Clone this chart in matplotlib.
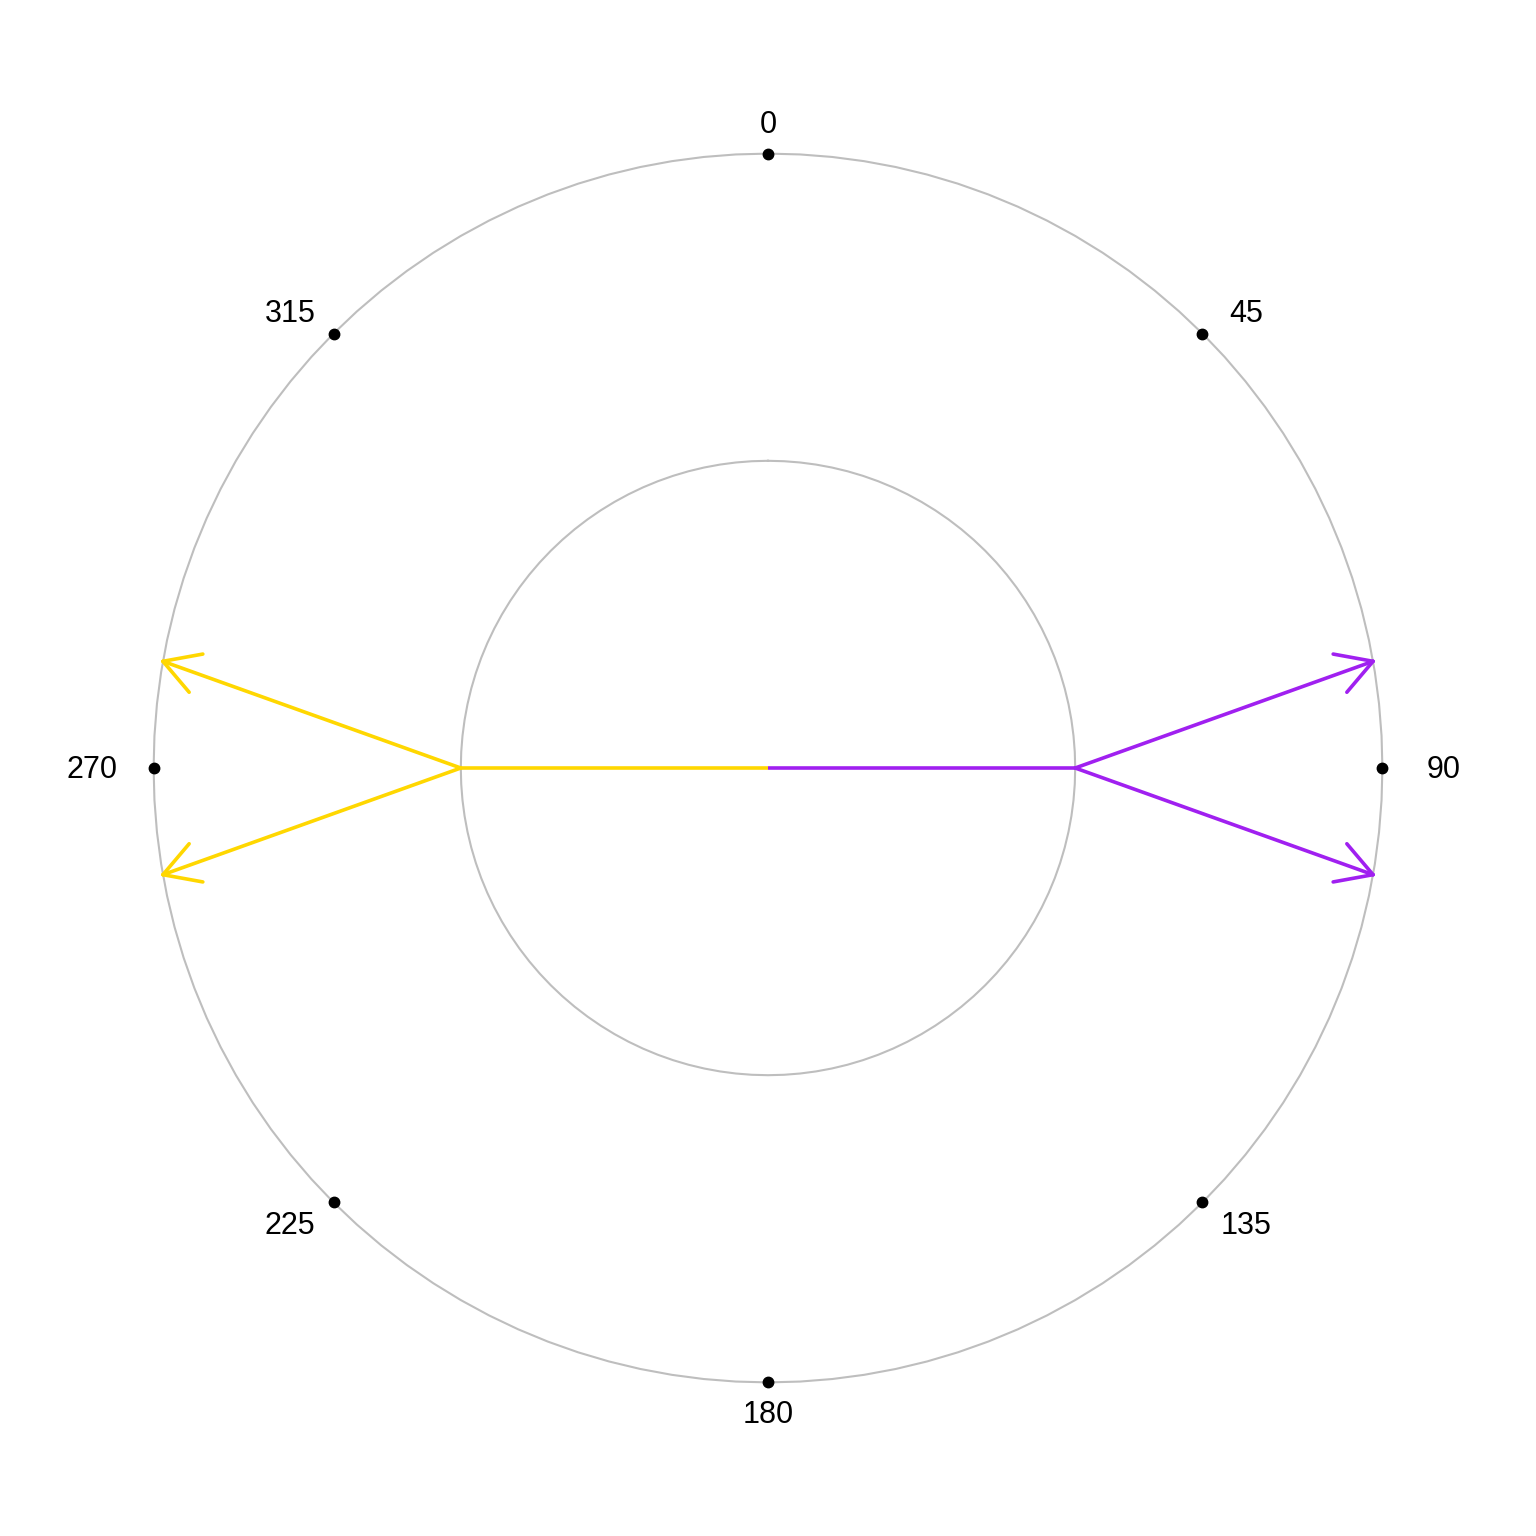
import numpy as np
import matplotlib
matplotlib.use("Agg")
import matplotlib.pyplot as plt

plt.rcParams['font.family'] = ['Liberation Sans', 'DejaVu Sans']

# ---- data ----
tick_angles = [0, 45, 90, 135, 180, 225, 270, 315]          # compass degrees
tick_labels = ["0", "45", "90", "135", "180", "225", "270", "315"]
circle_radii = [0.5, 1.0]
stem_angles = [90, 270]
stem_lengths = [0.5, 0.5]
branch_angles = [[80, 100], [260, 280]]
branch_lengths = [[1.0, 1.0], [1.0, 1.0]]
series_colors = ["#A020F0", "#FFD700"]


def polar_xy(theta_deg, r):
    t = np.deg2rad(np.asarray(theta_deg, dtype=float))
    return r * np.sin(t), r * np.cos(t)


fig = plt.figure(figsize=(15.36, 15.36), dpi=100)
ax = fig.add_axes([0, 0, 1, 1])
ax.set_xlim(-1.25, 1.25)
ax.set_ylim(-1.25, 1.25)
ax.set_aspect('equal')
ax.axis('off')

# circles
t = np.linspace(0, 360, 121)
for r in circle_radii:
    cx, cy = polar_xy(t, r)
    ax.plot(cx, cy, color="#BEBEBE", lw=1.5, zorder=1)

# arrows (open V heads, ~30 degrees, fixed length)
head_len = 0.066
head_ang = np.deg2rad(30)
for ang, ln, bangs, blens, col in zip(stem_angles, stem_lengths, branch_angles,
                                       branch_lengths, series_colors):
    sx, sy = polar_xy(ang, ln)
    ax.plot([0, sx], [0, sy], color=col, lw=2.6, solid_capstyle='butt', zorder=3)
    for ba, bl in zip(bangs, blens):
        tx, ty = polar_xy(ba, bl)
        ax.plot([sx, tx], [sy, ty], color=col, lw=2.6, solid_capstyle='round', zorder=3)
        back = np.arctan2(sy - ty, sx - tx)
        for s in (-1, 1):
            a = back + s * head_ang
            ax.plot([tx, tx + head_len * np.cos(a)], [ty, ty + head_len * np.sin(a)],
                    color=col, lw=2.6, solid_capstyle='round', zorder=3)

# tick dots and labels
dx, dy = polar_xy(tick_angles, 1.0)
ax.plot(dx, dy, 'o', color='black', markersize=7.5, zorder=4)
for a, lab in zip(tick_angles, tick_labels):
    lx = 1.10 * np.sin(np.deg2rad(a))
    ly = 1.05 * np.cos(np.deg2rad(a))
    ax.text(lx, ly - 0.003, lab, ha='center', va='center', fontsize=22, color='black')

fig.savefig("out.png", dpi=100)
